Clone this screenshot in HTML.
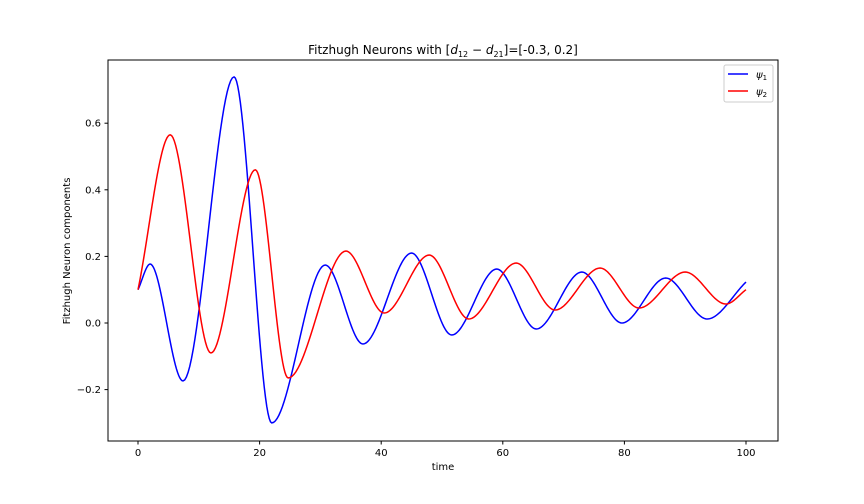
<!DOCTYPE html>
<html><head><meta charset="utf-8"><style>
body{margin:0;background:#fff;}
svg{display:block;font-family:"DejaVu Sans","Liberation Sans",sans-serif;}
</style></head><body>
<svg id="chart" width="864" height="504" viewBox="0 0 864 504">
<rect width="864" height="504" fill="#fff"/>
<text x="443" y="54" font-size="12" text-anchor="middle">Fitzhugh Neurons with [<tspan font-style="italic">d</tspan><tspan font-size="8" dy="3">12</tspan><tspan dy="-3"> − </tspan><tspan font-style="italic">d</tspan><tspan font-size="8" dy="3">21</tspan><tspan dy="-3">]=[-0.3, 0.2]</tspan></text>
<g id="axes"></g>
<g id="lines"></g>
<rect x="108" y="60" width="670" height="381" fill="none" stroke="#000" stroke-width="1"/>
<text x="443" y="470" font-size="10" text-anchor="middle">time</text>
<text transform="translate(70,251) rotate(-90)" font-size="10" text-anchor="middle">Fitzhugh Neuron components</text>
<g>
<rect x="724" y="65" width="49" height="37" fill="#fff" stroke="#ccc" rx="2"/>
<g>
<line x1="728" y1="74" x2="748" y2="74" stroke="blue" stroke-width="1.5"/>
<text x="756" y="78" font-size="10" font-style="italic">ψ<tspan font-size="7" font-style="normal" dy="2">1</tspan></text></g>
<g>
<line x1="728" y1="91" x2="748" y2="91" stroke="red" stroke-width="1.5"/>
<text x="756" y="95" font-size="10" font-style="italic">ψ<tspan font-size="7" font-style="normal" dy="2">2</tspan></text></g>
</g>
</svg>
<script>
const xTicks=[0,20,40,60,80,100];
const yTicks=[-0.2,0.0,0.2,0.4,0.6];
const yTickLabels=["−0.2","0.0","0.2","0.4","0.6"];
const psi1T=[0,2,7.4,15.8,22,30.8,37,45,51.6,59,65.5,73,79.6,86.8,93.6,100];
const psi1V=[0.1,0.177,-0.174,0.739,-0.30,0.174,-0.063,0.21,-0.036,0.162,-0.018,0.153,0.0,0.135,0.012,0.123];
const psi2T=[0,5.3,12,19.3,24.7,34.2,40.5,47.9,54.4,62.2,68.6,76,82.4,90,96.7,100];
const psi2V=[0.1,0.565,-0.09,0.46,-0.165,0.216,0.03,0.204,0.012,0.18,0.039,0.165,0.045,0.153,0.057,0.1];
const NS="http://www.w3.org/2000/svg";
function xs(t){return 138+6.08*t;}
function ys(v){return 323-333*v;}
const ax=document.getElementById('axes');
function mk(tag,attrs,parent){const e=document.createElementNS(NS,tag);for(const k in attrs)e.setAttribute(k,attrs[k]);parent.appendChild(e);return e;}
xTicks.forEach(t=>{
  const g=mk('g',{},ax);
  
  
  mk('line',{x1:xs(t),x2:xs(t),y1:441,y2:444.5,stroke:'#000'},g);
  const tx=mk('text',{x:xs(t),y:456,'font-size':10,'text-anchor':'middle'},g);tx.textContent=t;
});
yTicks.forEach((v,i)=>{
  const g=mk('g',{},ax);
  
  
  mk('line',{x1:104.5,x2:108,y1:ys(v),y2:ys(v),stroke:'#000'},g);
  const tx=mk('text',{x:101,y:ys(v)+3.5,'font-size':10,'text-anchor':'end'},g);tx.textContent=yTickLabels[i];
});
function pathFor(T,V){
  const n=T.length,m=[];
  for(let i=0;i<n;i++){
    if(i==0)m.push((V[1]-V[0])/(T[1]-T[0]));
    else if(i==n-1)m.push((V[i]-V[i-1])/(T[i]-T[i-1]));
    else{const a=(V[i]-V[i-1]),b=(V[i+1]-V[i]);m.push(a*b<=0?0:((a/(T[i]-T[i-1])+b/(T[i+1]-T[i]))/2));}
  }
  let d='';
  for(let i=0;i<n-1;i++){
    const h=T[i+1]-T[i];
    for(let k=0;k<=30;k++){
      if(i>0&&k==0)continue;
      const s=k/30,s2=s*s,s3=s2*s;
      const v=(2*s3-3*s2+1)*V[i]+(s3-2*s2+s)*h*m[i]+(-2*s3+3*s2)*V[i+1]+(s3-s2)*h*m[i+1];
      d+=(d?'L':'M')+xs(T[i]+s*h).toFixed(2)+','+ys(v).toFixed(2);
    }
  }
  return d;
}
const lg=document.getElementById('lines');
const p1=mk('path',{d:pathFor(psi1T,psi1V),fill:'none',stroke:'blue','stroke-width':1.5},lg);


const p2=mk('path',{d:pathFor(psi2T,psi2V),fill:'none',stroke:'red','stroke-width':1.5},lg);


</script>
</body></html>
